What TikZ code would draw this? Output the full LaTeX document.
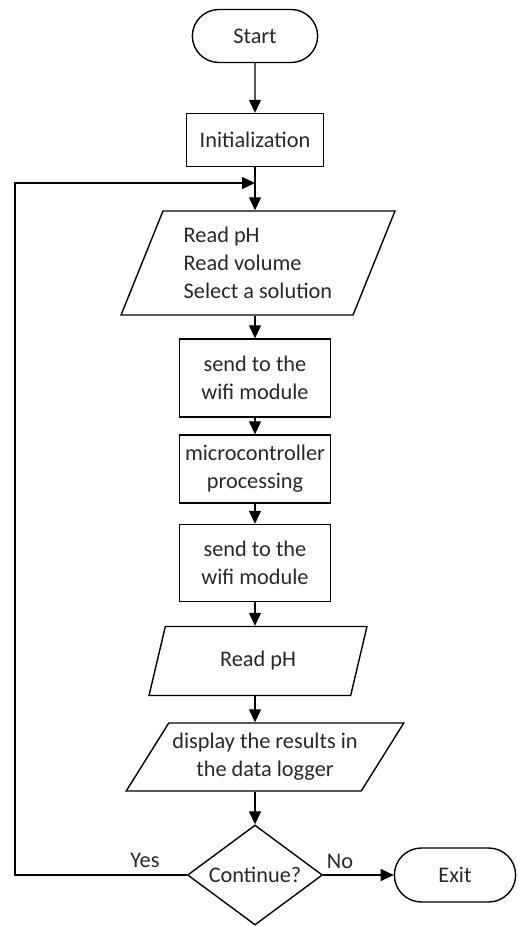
\documentclass[tikz,border=0pt]{standalone}
\usepackage{fontspec}
\setmainfont{Carlito}
\usetikzlibrary{shapes.geometric,shapes.misc,arrows.meta}
\definecolor{txt}{RGB}{40,40,40}

\begin{document}
\begin{tikzpicture}[x=0.02cm,y=-0.02cm,
	every node/.style={font=\fontsize{12.7}{16}\selectfont,text=txt},
	term/.style={draw,rounded rectangle,line width=0.8pt,minimum width=2.74cm,minimum height=1.06cm},
	proc/.style={draw,rectangle,line width=0.8pt,minimum width=3.02cm,align=center,inner sep=2pt},
	io/.style={draw,trapezium,trapezium stretches body,line width=0.8pt,inner sep=2pt},
	arr/.style={-{Triangle[length=0.26cm,width=0.24cm]},line width=0.7pt}]
	\useasboundingbox (0,0) rectangle (526,926);
\node[term] (start) at (255,36) {Start};
\node[proc,minimum width=2.74cm,minimum height=1.06cm] (init) at (255,140) {Initialization};
\node[io,trapezium left angle=62,trapezium right angle=118,minimum width=5.48cm,minimum height=2.08cm,align=left] (in1) at (258,263) {Read pH\\Read volume\\Select a solution};
\node[proc,minimum height=1.56cm] (send1) at (255,378) {send to the\\wifi module};
\node[proc,minimum height=1.36cm] (mcu) at (255,469) {microcontroller\\processing};
\node[proc,minimum height=1.54cm] (send2) at (255,563) {send to the\\wifi module};
\node[io,trapezium left angle=58,trapezium right angle=122,minimum width=4.36cm,minimum height=1.38cm] (in2) at (258,661) {Read pH};
\node[io,trapezium left angle=52,trapezium right angle=128,minimum width=5.42cm,minimum height=1.36cm,align=center] (out) at (265,757) {display the results in\\the data logger};
\node[draw,diamond,aspect=1.35,inner sep=0pt,line width=0.8pt,minimum width=2.7cm,minimum height=2cm] (dec) at (255,875) {Continue?};
\node[term,minimum width=2.66cm,minimum height=1.08cm] (exit) at (455,875) {Exit};
\node (yes) at (145,860) {Yes};
\node (no) at (340,861) {No};
\coordinate (join) at (255,183);
\coordinate (back) at (15,183);
% connectors
\draw[arr] (start) -- (init);
\draw[arr] (init) -- (in1.north -| dec);
\draw[arr] (dec.west) -| (back) -- (join);
\draw[arr] (in1.south -| dec) -- (send1);
\draw[arr] (send1) -- (mcu);
\draw[arr] (mcu) -- (send2);
\draw[arr] (send2) -- (in2.north -| dec);
\draw[arr] (in2.south -| dec) -- (out.north -| dec);
\draw[arr] (out.south -| dec) -- (dec);
\draw[arr] (dec) -- (exit);
\end{tikzpicture}
\end{document}
